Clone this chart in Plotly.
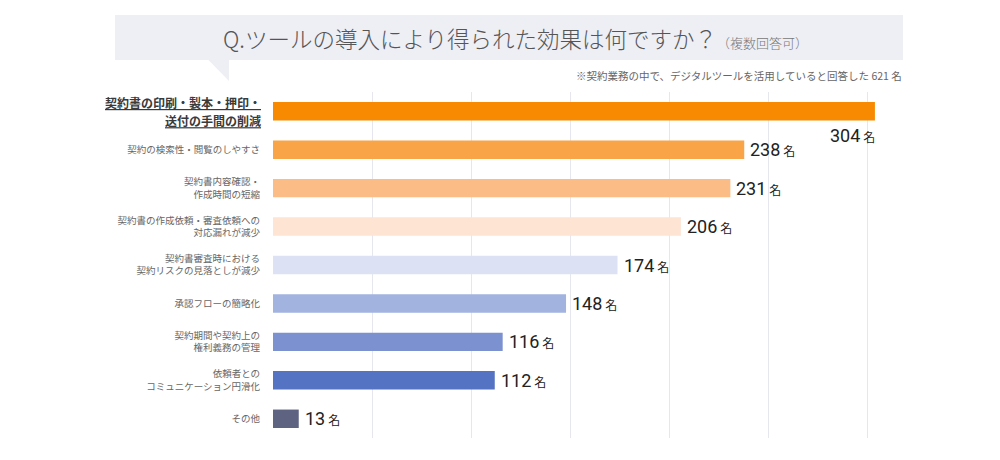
import plotly.graph_objects as go

# survey answers (top to bottom); first one gets its own highlighted label
labels = [
    "契約書の印刷・製本・押印・<br>送付の手間の削減",
    "契約の検索性・閲覧のしやすさ",
    "契約書内容確認・<br>作成時間の短縮",
    "契約書の作成依頼・審査依頼への<br>対応漏れが減少",
    "契約書審査時における<br>契約リスクの見落としが減少",
    "承認フローの簡略化",
    "契約期間や契約上の<br>権利義務の管理",
    "依頼者との<br>コミュニケーション円滑化",
    "その他",
]
counts = [304, 238, 231, 206, 174, 148, 116, 112, 13]
bar_colors = ["#F78A00", "#F9A447", "#FBBD85", "#FDE4D3", "#DCE1F3",
              "#A3B3E0", "#7C91D0", "#5573C3", "#5E6381"]
grid_ticks = [50, 100, 150, 200, 250, 300]

font_jp = "Noto Sans CJK JP"

# the page body has an 8px margin, so screen px = figure px + 8
OFF = 8
L, R, T, B = 273 - OFF, 895 - OFF, 92 - OFF, 438 - OFF


def px_x(x):
    return (x - OFF - L) / (R - L)


def px_y(y):
    return (B - (y - OFF)) / (B - T)


ticktext = [""] + labels[1:]

fig = go.Figure(go.Bar(
    x=counts,
    y=list(range(len(counts))),
    orientation="h",
    marker=dict(color=bar_colors, line=dict(width=0)),
    width=0.48,
    hoverinfo="x",
))

# highlighted first label, underlined
first_lines = labels[0].split("<br>")
fig.add_annotation(
    xref="paper", yref="y", x=px_x(263), y=0,
    text="<br>".join(f"<span style='font-size:12px'><b><u>{t}</u></b></span>" for t in first_lines),
    showarrow=False, xanchor="right", yanchor="middle", align="right",
    font=dict(family=font_jp, size=14, color="#3a3a3a"),
)

# value labels
for i, c in enumerate(counts):
    txt = f"<span style='font-size:18px'>{c}</span><span style='font-size:12px'> 名</span>"
    if i == 0:
        fig.add_annotation(x=c, y=i, text=txt, showarrow=False, xanchor="right",
                           yanchor="middle", yshift=-24, xshift=2,
                           font=dict(family="Roboto, " + font_jp, color="#222"))
    else:
        fig.add_annotation(x=c, y=i, text=txt, showarrow=False, xanchor="left",
                           yanchor="middle", xshift=4,
                           font=dict(family="Roboto, " + font_jp, color="#222"))

# title banner with speech-bubble tail
fig.add_shape(type="rect", xref="paper", yref="paper",
              x0=px_x(115), x1=px_x(903), y0=px_y(60), y1=px_y(15),
              fillcolor="#EEEEF5", line=dict(width=0), layer="below")
fig.add_shape(type="path", xref="paper", yref="paper",
              path=f"M {px_x(208)},{px_y(59.5)} L {px_x(229)},{px_y(59.5)} L {px_x(229)},{px_y(81)} Z",
              fillcolor="#EEEEF5", line=dict(width=0), layer="below")

fig.add_annotation(
    xref="paper", yref="paper", x=px_x(515), y=px_y(38),
    text="Q.ツールの導入により得られた効果は何ですか？"
         "<span style='font-size:13px;color:#777'>（複数回答可）</span>",
    showarrow=False, xanchor="center", yanchor="middle",
    font=dict(family=font_jp, size=22.5, color="#555", weight=300),
)
fig.add_annotation(
    xref="paper", yref="paper", x=px_x(904), y=px_y(75),
    text="※契約業務の中で、デジタルツールを活用していると回答した 621 名",
    showarrow=False, xanchor="right", yanchor="middle",
    font=dict(family=font_jp, size=10.5, color="#666"),
)

fig.update_layout(
    width=1000, height=460,
    margin=dict(l=L, r=1000 - R, t=T, b=460 - B),
    paper_bgcolor="white", plot_bgcolor="white",
    showlegend=False,
    xaxis=dict(range=[0, (R - L) / 1.98], tickvals=grid_ticks, showticklabels=False,
               showgrid=True, gridcolor="#E6E6EE", gridwidth=1, zeroline=False,
               showline=False, fixedrange=True),
    yaxis=dict(tickvals=list(range(len(counts))), ticktext=ticktext,
               range=[len(counts) - 0.5, -0.5], showgrid=False, zeroline=False,
               ticks="outside", ticklen=10, tickcolor="rgba(0,0,0,0)",
               tickfont=dict(family=font_jp, size=9.5, color="#666"),
               fixedrange=True),
)

fig.write_html("out.html")
